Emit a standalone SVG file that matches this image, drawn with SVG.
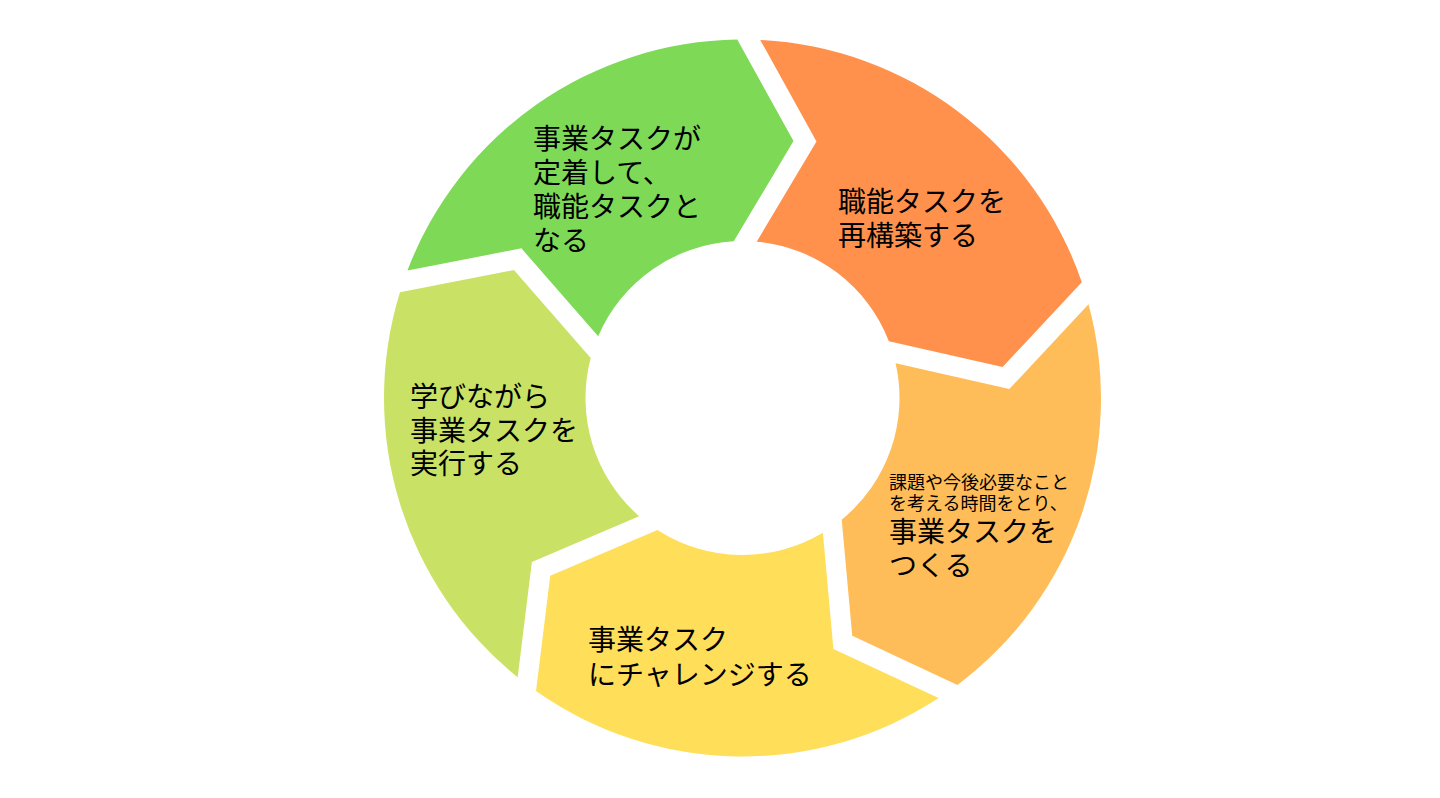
<svg xmlns="http://www.w3.org/2000/svg" xmlns:xlink="http://www.w3.org/1999/xlink" width="1440" height="798" viewBox="0 0 1440 798">
<defs>
<style>
.t{font-family:"Noto Sans CJK JP","Noto Sans",sans-serif;font-size:28px;fill:#000;}
.s{font-size:18px;}
</style>
<path id="seg" d="M11.5,-156.58 L69.5,-257.75 L11.5,-358.32 A358.5,358.5 0 0 1 337.23,-121.66 L259.51,-35.42 L145.36,-59.32 A157,157 0 0 0 11.5,-156.58 Z"/>
</defs>
<rect width="1440" height="798" fill="#ffffff"/>
<g id="connectors"></g>
<g id="node-1">
<use xlink:href="#seg" href="#seg" transform="translate(742.5 398) rotate(1)" fill="#FF914D"/>
<text class="t" x="838" y="212">職能タスクを</text>
<text class="t" x="838" y="246">再構築する</text>
</g>
<g id="node-2">
<use xlink:href="#seg" href="#seg" transform="translate(742.5 398) rotate(73)" fill="#FFBD59"/>
<text class="t s" x="889" y="489">課題や今後必要なこと</text>
<text class="t s" x="889" y="510">を考える時間をとり、</text>
<text class="t" x="889" y="542">事業タスクを</text>
<text class="t" x="889" y="576">つくる</text>
</g>
<g id="node-3">
<use xlink:href="#seg" href="#seg" transform="translate(742.5 398) rotate(145)" fill="#FFDE59"/>
<text class="t" x="588" y="650">事業タスク</text>
<text class="t" x="588" y="685">にチャレンジする</text>
</g>
<g id="node-4">
<use xlink:href="#seg" href="#seg" transform="translate(742.5 398) rotate(217)" fill="#C9E265"/>
<text class="t" x="410" y="407">学びながら</text>
<text class="t" x="410" y="441">事業タスクを</text>
<text class="t" x="410" y="474">実行する</text>
</g>
<g id="node-5">
<use xlink:href="#seg" href="#seg" transform="translate(742.5 398) rotate(289)" fill="#7ED957"/>
<text class="t" x="533" y="149">事業タスクが</text>
<text class="t" x="533" y="183">定着して、</text>
<text class="t" x="533" y="217">職能タスクと</text>
<text class="t" x="533" y="251">なる</text>
</g>
</svg>
